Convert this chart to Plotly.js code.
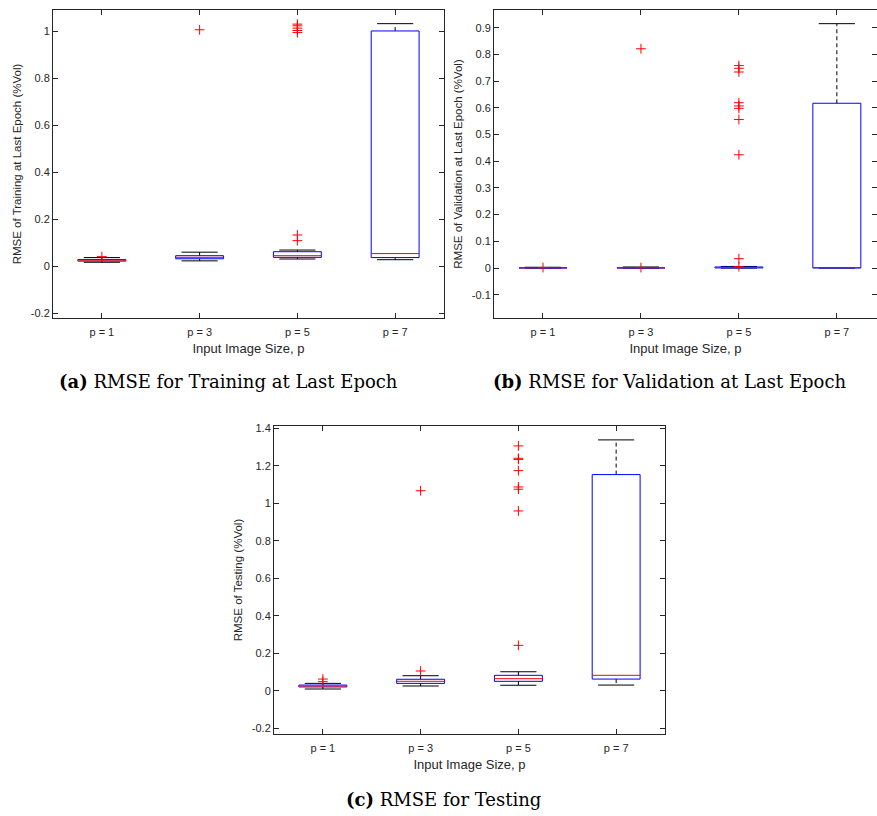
<!DOCTYPE html>
<html>
<head>
<meta charset="utf-8">
<script src="https://cdn.plot.ly/plotly-3.0.1.min.js"></script>
<style>html,body{margin:0;padding:0;background:#fff;}#chart{width:877px;height:816px;}</style>
</head>
<body>
<div id="chart"></div>
<script>
// ---- data ----
const categories = ["p = 1", "p = 3", "p = 5", "p = 7"];

// (a) Training RMSE at last epoch
const trainLo  = [0.017, 0.023, 0.031, 0.028];
const trainQ1  = [0.022, 0.032, 0.038, 0.037];
const trainMed = [0.026, 0.038, 0.045, 0.054];
const trainQ3  = [0.029, 0.045, 0.062, 1.001];
const trainHi  = [0.037, 0.060, 0.069, 1.032];
const trainOut = [[0.041], [1.006], [1.030, 1.023, 1.013, 1.003, 0.994, 0.133, 0.109], []];

// (b) Validation RMSE at last epoch
const valLo  = [0.0, 0.0, 0.0, 0.0];
const valQ1  = [0.0005, 0.0005, 0.0005, 0.0];
const valMed = [0.001, 0.001, 0.002, 0.002];
const valQ3  = [0.0015, 0.003, 0.004, 0.617];
const valHi  = [0.003, 0.004, 0.006, 0.915];
const valOut = [[0.002], [0.002, 0.821], [0.758, 0.748, 0.734, 0.619, 0.607, 0.598, 0.556, 0.424, 0.035, 0.005], []];

// (c) Testing RMSE
const testLo  = [0.009, 0.025, 0.029, 0.030];
const testQ1  = [0.020, 0.039, 0.050, 0.062];
const testMed = [0.025, 0.050, 0.064, 0.082];
const testQ3  = [0.030, 0.061, 0.082, 1.153];
const testHi  = [0.039, 0.080, 0.101, 1.338];
const testOut = [[0.062, 0.048], [1.067, 0.105], [1.306, 1.240, 1.234, 1.174, 1.087, 1.075, 0.959, 0.242], []];

const trainTicks = [-0.2, 0, 0.2, 0.4, 0.6, 0.8, 1];
const trainTickText = ["-0.2", "0", "0.2", "0.4", "0.6", "0.8", "1"];
const valTicks = [-0.1, 0, 0.1, 0.2, 0.3, 0.4, 0.5, 0.6, 0.7, 0.8, 0.9];
const valTickText = ["-0.1", "0", "0.1", "0.2", "0.3", "0.4", "0.5", "0.6", "0.7", "0.8", "0.9"];
const testTicks = [-0.2, 0, 0.2, 0.4, 0.6, 0.8, 1, 1.2, 1.4];
const testTickText = ["-0.2", "0", "0.2", "0.4", "0.6", "0.8", "1", "1.2", "1.4"];

// ---- build traces ----
const BW = 0.245, CW = 0.185;
function boxTraces(lo, q1, med, q3, hi, out, xa, ya) {
  const wx = [], wy = [], cx = [], cy = [], bx = [], by = [], mx = [], my = [], ox = [], oy = [];
  categories.forEach((c, i) => {
    wx.push(i, i, null, i, i, null); wy.push(q3[i], hi[i], null, q1[i], lo[i], null);
    cx.push(i - CW, i + CW, null, i - CW, i + CW, null); cy.push(hi[i], hi[i], null, lo[i], lo[i], null);
    bx.push(i - BW, i + BW, i + BW, i - BW, i - BW, null); by.push(q1[i], q1[i], q3[i], q3[i], q1[i], null);
    mx.push(i - BW, i + BW, null); my.push(med[i], med[i], null);
    out[i].forEach(v => { ox.push(i); oy.push(v); });
  });
  const common = {xaxis: xa, yaxis: ya, showlegend: false, hoverinfo: 'skip', type: 'scatter'};
  return [
    Object.assign({x: wx, y: wy, mode: 'lines', line: {color: '#000', width: 1, dash: '4px,3px'}}, common),
    Object.assign({x: cx, y: cy, mode: 'lines', line: {color: '#000', width: 1}}, common),
    Object.assign({x: bx, y: by, mode: 'lines', line: {color: '#0000ff', width: 1}}, common),
    Object.assign({x: mx, y: my, mode: 'lines', line: {color: '#ff0000', width: 1}}, common),
    Object.assign({x: ox, y: oy, mode: 'markers', marker: {symbol: 'cross-thin', size: 7, color: '#ff0000', line: {color: '#ff0000', width: 1}}}, common)
  ];
}

const data = [].concat(
  boxTraces(trainLo, trainQ1, trainMed, trainQ3, trainHi, trainOut, 'x', 'y'),
  boxTraces(valLo, valQ1, valMed, valQ3, valHi, valOut, 'x2', 'y2'),
  boxTraces(testLo, testQ1, testMed, testQ3, testHi, testOut, 'x3', 'y3')
);

const fontCol = '#262626';
const tickFont = {family: 'Liberation Sans, Arial, sans-serif', size: 11, color: fontCol};
function xax(domain, range, anchor) {
  return {domain: domain, range: range, anchor: anchor, tickmode: 'array',
    tickvals: categories.map((c, i) => i), ticktext: categories,
    ticks: 'inside', ticklen: 5, tickcolor: fontCol, showline: true, linecolor: fontCol, linewidth: 1,
    mirror: 'ticks', showgrid: false, zeroline: false, tickfont: tickFont, ticklabelstandoff: 4,
    title: {text: 'Input Image Size, p', font: {family: 'Liberation Sans, Arial, sans-serif', size: 13, color: fontCol}, standoff: 6}};
}
function yax(domain, range, anchor, tv, tt, title) {
  return {domain: domain, range: range, anchor: anchor, tickmode: 'array', tickvals: tv, ticktext: tt,
    ticks: 'inside', ticklen: 5, tickcolor: fontCol, showline: true, linecolor: fontCol, linewidth: 1,
    mirror: 'ticks', showgrid: false, zeroline: false, tickfont: tickFont,
    title: {text: title, font: {family: 'Liberation Sans, Arial, sans-serif', size: 11.5, color: fontCol}, standoff: 6}};
}

const capFont = {family: 'DejaVu Serif, serif', size: 18, color: '#000'};
const layout = {
  width: 877, height: 816, margin: {l: 0, r: 0, t: 0, b: 0},
  paper_bgcolor: '#fff', plot_bgcolor: '#fff', showlegend: false,
  xaxis: xax([0.0604, 0.5063], [-0.5, 3.5], 'y'),
  yaxis: yax([0.6103, 0.9877], [-0.22, 1.09], 'x', trainTicks, trainTickText, 'RMSE of Training at Last Epoch (%Vol)'),
  xaxis2: xax([0.5633, 1.0], [-0.5, 3.41], 'y2'),
  yaxis2: yax([0.6103, 0.9877], [-0.187, 0.966], 'x2', valTicks, valTickText, 'RMSE of Validation at Last Epoch (%Vol)'),
  xaxis3: xax([0.3124, 0.7583], [-0.5, 3.5], 'y3'),
  yaxis3: yax([0.1005, 0.4779], [-0.231, 1.412], 'x3', testTicks, testTickText, 'RMSE of Testing (%Vol)'),
  annotations: [
    {text: '<b>(a)</b> RMSE for Training at Last Epoch', xref: 'paper', yref: 'paper', x: 228/877, y: 1 - 381/816, xanchor: 'center', yanchor: 'middle', showarrow: false, font: capFont},
    {text: '<b>(b)</b> RMSE for Validation at Last Epoch', xref: 'paper', yref: 'paper', x: 669/877, y: 1 - 381/816, xanchor: 'center', yanchor: 'middle', showarrow: false, font: capFont},
    {text: '<b>(c)</b> RMSE for Testing', xref: 'paper', yref: 'paper', x: 443/877, y: 1 - 799/816, xanchor: 'center', yanchor: 'middle', showarrow: false, font: capFont}
  ]
};

Plotly.newPlot('chart', data, layout, {staticPlot: true, displayModeBar: false});
</script>
</body>
</html>
